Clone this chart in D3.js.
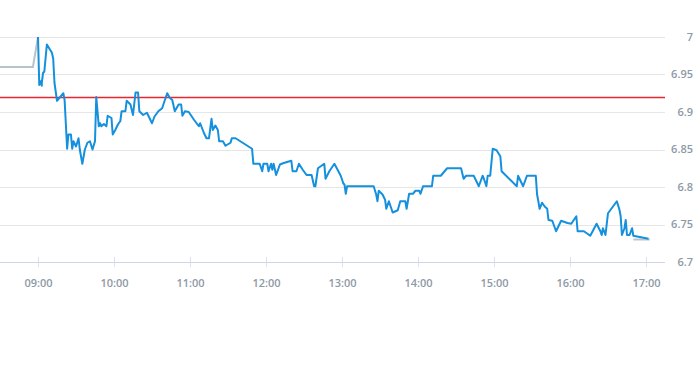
<!DOCTYPE html>
<html>
<head>
<meta charset="utf-8">
<script src="https://cdn.jsdelivr.net/npm/d3@7"></script>
<style>
html,body{margin:0;padding:0;background:#fff;}
svg{display:block;}
text{font-family:"Open Sans",sans-serif;}
</style>
</head>
<body>
<svg id="chart" width="695" height="370"></svg>
<script>
// ---- data ----
const priceTimes = ["09:00","09:01","09:02","09:03","09:03","09:04","09:05","09:07","09:11","09:12","09:13","09:15","09:17","09:20","09:21","09:23","09:24","09:26","09:27","09:28","09:30","09:32","09:33","09:35","09:37","09:39","09:41","09:43","09:45","09:46","09:48","09:49","09:50","09:52","09:54","09:55","09:58","09:59","10:01","10:03","10:05","10:06","10:09","10:10","10:13","10:15","10:17","10:19","10:20","10:23","10:26","10:30","10:32","10:35","10:38","10:42","10:44","10:46","10:48","10:51","10:53","10:54","10:56","10:59","11:03","11:07","11:08","11:11","11:13","11:15","11:17","11:18","11:20","11:22","11:23","11:26","11:28","11:32","11:33","11:36","11:49","11:50","11:55","11:57","11:58","12:01","12:02","12:04","12:05","12:06","12:08","12:11","12:14","12:20","12:21","12:24","12:26","12:29","12:32","12:36","12:38","12:39","12:41","12:46","12:47","12:50","12:54","12:59","13:01","13:02","13:03","13:04","13:25","13:27","13:28","13:29","13:32","13:34","13:35","13:37","13:40","13:44","13:46","13:50","13:51","13:53","13:56","13:58","14:01","14:02","14:04","14:11","14:12","14:18","14:23","14:34","14:36","14:38","14:44","14:48","14:51","14:52","14:54","14:55","14:57","14:59","15:02","15:05","15:06","15:18","15:19","15:23","15:26","15:33","15:34","15:35","15:36","15:38","15:40","15:42","15:43","15:46","15:49","15:53","15:58","16:01","16:05","16:06","16:11","16:16","16:21","16:24","16:25","16:26","16:28","16:30","16:37","16:39","16:40","16:41","16:43","16:44","16:45","16:47","16:49","16:50","17:02"];
const priceValues = [7.000,6.936,6.941,6.935,6.939,6.952,6.954,6.990,6.979,6.971,6.939,6.915,6.919,6.925,6.916,6.851,6.870,6.870,6.851,6.861,6.854,6.865,6.850,6.831,6.850,6.859,6.861,6.850,6.861,6.920,6.881,6.885,6.881,6.884,6.881,6.895,6.892,6.870,6.876,6.883,6.888,6.901,6.901,6.915,6.910,6.896,6.926,6.926,6.901,6.896,6.899,6.885,6.894,6.901,6.905,6.925,6.919,6.916,6.901,6.910,6.910,6.895,6.901,6.900,6.890,6.881,6.885,6.872,6.865,6.865,6.891,6.876,6.882,6.876,6.861,6.861,6.855,6.859,6.865,6.865,6.851,6.831,6.831,6.821,6.831,6.831,6.821,6.831,6.823,6.831,6.816,6.830,6.832,6.835,6.821,6.821,6.831,6.823,6.816,6.816,6.801,6.801,6.825,6.831,6.811,6.821,6.831,6.815,6.805,6.803,6.791,6.801,6.801,6.790,6.781,6.795,6.790,6.783,6.771,6.781,6.766,6.769,6.781,6.781,6.771,6.791,6.791,6.795,6.795,6.791,6.801,6.801,6.815,6.815,6.825,6.825,6.811,6.815,6.815,6.801,6.815,6.811,6.801,6.815,6.815,6.851,6.849,6.841,6.821,6.801,6.815,6.801,6.815,6.815,6.790,6.781,6.771,6.779,6.774,6.771,6.756,6.755,6.741,6.755,6.752,6.751,6.761,6.741,6.741,6.735,6.751,6.741,6.736,6.745,6.736,6.765,6.781,6.770,6.761,6.736,6.745,6.756,6.736,6.736,6.745,6.735,6.731];
const preTimes = ["08:30","08:56","09:00"];
const preValues = [6.96,6.96,7.00];
const postTimes = ["16:50","17:03"];
const postValues = [6.730,6.730];
const refValue = 6.92;
const yTickValues = [6.7,6.75,6.8,6.85,6.9,6.95,7];
const xTickLabels = ["09:00","10:00","11:00","12:00","13:00","14:00","15:00","16:00","17:00"];
const xDomain = ["08:30","17:15"];

// ---- drawing ----
const parse = s => { const [h,m] = s.split(":").map(Number); return new Date(2020,0,1,h,m); };
const svg = d3.select("#chart");
const plotLeft = 0, plotRight = 665, plotTop = 37, plotBottom = 262;

const x = d3.scaleTime().domain(xDomain.map(parse)).range([plotLeft, plotRight]);
const y = d3.scaleLinear().domain([6.7, 7.0]).range([plotBottom, plotTop]);

// gridlines
svg.append("g").selectAll("line").data(yTickValues.filter(v => v > 6.7)).join("line")
  .attr("x1", plotLeft).attr("x2", plotRight)
  .attr("y1", d => Math.round(y(d)) + 0.5).attr("y2", d => Math.round(y(d)) + 0.5)
  .attr("stroke", "#e6e6e6").attr("stroke-width", 1);

// y labels
svg.append("g").selectAll("text").data(yTickValues).join("text")
  .attr("x", 693).attr("y", d => y(d)).attr("dy", "0.35em")
  .attr("text-anchor", "end")
  .attr("font-size", 11).attr("font-weight", 600).attr("fill", "#8e99a6")
  .text(d => d3.format("")(+d.toFixed(2)));

// x axis
const xAxis = d3.axisBottom(x)
  .tickValues(xTickLabels.map(parse))
  .tickFormat(d3.timeFormat("%H:%M"))
  .tickSize(10).tickSizeOuter(0).tickPadding(12);
const gx = svg.append("g").attr("transform", `translate(0,${plotBottom - 5})`).call(xAxis);
gx.select(".domain").remove();
gx.selectAll(".tick line").attr("stroke", "#dde3ee");
gx.selectAll(".tick text").attr("font-size", 11).attr("font-weight", 600).attr("fill", "#8e99a6")
  .attr("font-family", "'Open Sans',sans-serif");
svg.append("line").attr("x1", plotLeft).attr("x2", plotRight)
  .attr("y1", plotBottom + 0.5).attr("y2", plotBottom + 0.5)
  .attr("stroke", "#ccd6eb").attr("stroke-width", 1);

// reference line
const ry = Math.round(y(refValue)) + 0.5;
svg.append("line").attr("x1", plotLeft).attr("x2", plotRight)
  .attr("y1", ry).attr("y2", ry)
  .attr("stroke", "#e8262e").attr("stroke-width", 1.4);

const line = d3.line().x(d => x(parse(d[0]))).y(d => y(d[1]));

svg.append("path").datum(d3.zip(preTimes, preValues))
  .attr("d", line).attr("fill", "none").attr("stroke", "#b8c4cc").attr("stroke-width", 2);
svg.append("path").datum(d3.zip(postTimes, postValues))
  .attr("d", line).attr("fill", "none").attr("stroke", "#b8c4cc").attr("stroke-width", 2);
svg.append("path").datum(d3.zip(priceTimes, priceValues))
  .attr("d", line).attr("fill", "none").attr("stroke", "#1590dd").attr("stroke-width", 2)
  .attr("stroke-linejoin", "round");
</script>
</body>
</html>
